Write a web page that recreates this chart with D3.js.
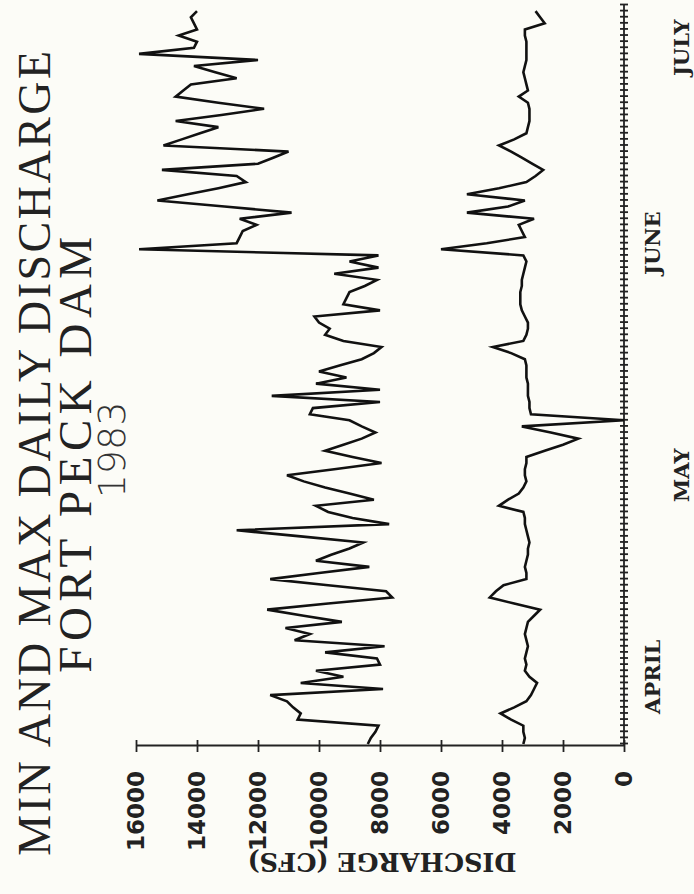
<!DOCTYPE html>
<html>
<head>
<meta charset="utf-8">
<script src="https://cdn.jsdelivr.net/npm/d3@7"></script>
<style>
  body { margin: 0; background: #fcfcf7; }
  svg { display: block; }
</style>
</head>
<body>
<script>
// Daily discharge at Fort Peck Dam, from 1 April 1983 (cfs)
const maxFlow = [
  8400, 8300, 8150, 8050, 10700, 10600, 10850, 11050, 11600, 7900,
  10600, 9200, 10100, 8000, 8100, 9800, 7850, 10800, 10300, 11100,
  9250, 10500, 11700, 9700, 7600, 7800, 9700, 11600, 10000, 8350,
  10100, 9600, 9000, 8550, 10600, 12700, 7700, 8900, 9700, 10100,
  8200, 9000, 9800, 10500, 11050, 9500, 7950, 8900, 9800, 9200,
  8600, 8150, 8600, 9000, 10300, 10200, 8000, 11550, 8000, 10100,
  9100, 10000, 9300, 8600, 8200, 7950, 9200, 9800, 9650, 10000,
  10150, 8000, 9200, 9100, 9000, 8500, 8100, 9500, 8050, 9000,
  8050, 15900, 12700, 12600, 12500, 12050, 12600, 10900, 13100, 15300,
  14300, 13300, 12400, 12700, 15150, 12000, 11500, 11000, 15100, 14500,
  13900, 13300, 14700, 13200, 11800, 13300, 14700, 14450, 14200, 12700,
  13400, 14100, 12000, 15900, 14100, 14000, 14600, 14000, 14100, 14200,
  14000
];
const minFlow = [
  3300, 3250, 3300, 3300, 3700, 4050, 3600, 3200, 3050, 2950,
  2850, 3100, 3250, 3200, 3250, 3200, 3150, 3200, 3250, 3200,
  3150, 2950, 2750, 3600, 4400, 4200, 3950, 3200, 3200, 3250,
  3200, 3150, 3150, 3100, 3150, 3200, 3250, 3250, 3300, 4100,
  3800, 3450, 3300, 3200, 3250, 3250, 3200, 3200, 2600, 2000,
  1500, 2400, 3350, 0, 3050, 3100, 3100, 3150, 3150, 3150,
  3200, 3200, 3200, 3250, 3700, 4300, 3300, 3200, 3150, 3150,
  3250, 3350, 3400, 3400, 3400, 3350, 3350, 3300, 3250, 3200,
  3300, 6000, 4500, 3250, 3350, 3450, 2950, 5150, 3800, 3250,
  5150, 4100, 3200, 2900, 2650, 3000, 3350, 3700, 4100, 3600,
  3200, 3150, 3100, 3100, 3100, 3150, 3450, 3150, 3200, 3250,
  3300, 3250, 3200, 3200, 3200, 3200, 3250, 3250, 2600, 2750,
  2900
];
const dischargeTicks = [0, 2000, 4000, 6000, 8000, 10000, 12000, 14000, 16000];
const monthLabels = ["APRIL", "MAY", "JUNE", "JULY"];
const monthLabelDates = ["1983-04-12", "1983-05-15", "1983-06-22", "1983-07-24"];
const titleLines = ["MIN AND MAX DAILY DISCHARGE", "FORT PECK DAM"];
const titleYear = "1983";

// The chart is laid out upright in an 894 x 694 frame, then turned
// a quarter turn counter-clockwise to fit the page.
const pageW = 694, pageH = 894;
const originX = 148;      // where the two axes meet
const timeEnd = 889;

const svg = d3.select("body")
  .append("svg")
  .attr("width", pageW)
  .attr("height", pageH);

const g = svg.append("g")
  .attr("transform", `translate(0,${pageH}) rotate(-90)`);

const parse = d3.timeParse("%Y-%m-%d");
const startDate = parse("1983-04-01");
const dates = maxFlow.map((d, i) => d3.timeDay.offset(startDate, i));

const x = d3.scaleTime()
  .domain([startDate, parse("1983-07-31")])
  .range([150, timeEnd]);

const y = d3.scaleLinear()
  .domain([0, 16000])
  .range([624, 136]);

// time axis, one tick a day
g.append("g")
  .attr("transform", `translate(0,${y(0)})`)
  .call(d3.axisBottom(x).ticks(d3.timeDay.every(1)).tickSize(4).tickFormat(""))
  .call(a => a.select(".domain").attr("d", `M${originX},0H${timeEnd}`))
  .call(a => a.selectAll(".tick line").attr("y1", -4));

// discharge axis
g.append("g")
  .attr("transform", `translate(${originX},0)`)
  .call(d3.axisLeft(y).tickValues(dischargeTicks).tickSizeInner(6)
    .tickSizeOuter(0).tickPadding(19).tickFormat(d3.format("d")))
  .call(a => a.selectAll(".tick line").attr("x1", 6))
  .call(a => a.selectAll("text")
    .style("font-family", "'DejaVu Sans', sans-serif")
    .style("font-weight", "bold")
    .style("font-size", "23px")
    .attr("fill", "#222"));

g.selectAll(".domain, .tick line")
  .attr("stroke", "#222")
  .attr("stroke-width", 1.8);

// month names, staggered in two rows
g.selectAll(".month")
  .data(monthLabels)
  .join("text")
  .attr("class", "month")
  .attr("x", (d, i) => x(parse(monthLabelDates[i])))
  .attr("y", (d, i) => i % 2 === 0 ? 660 : 689)
  .attr("text-anchor", "middle")
  .style("font-family", "'DejaVu Serif', serif")
  .style("font-weight", "bold")
  .style("font-size", "21px")
  .attr("fill", "#222")
  .text(d => d);

// discharge label
g.append("text")
  .attr("transform", "translate(32,382) rotate(-90)")
  .attr("text-anchor", "middle")
  .attr("dominant-baseline", "central")
  .style("font-family", "'DejaVu Serif', serif")
  .style("font-weight", "bold")
  .style("font-size", "25.5px")
  .attr("fill", "#222")
  .text("DISCHARGE (CFS)");

// title
g.selectAll(".title")
  .data(titleLines)
  .join("text")
  .attr("class", "title")
  .attr("x", 442)
  .attr("y", (d, i) => 50 + i * 41)
  .attr("text-anchor", "middle")
  .style("font-family", "'Liberation Serif', serif")
  .style("font-size", (d, i) => i === 0 ? "46px" : "47px")
  .style("letter-spacing", (d, i) => i === 0 ? "2.5px" : "5.5px")
  .attr("fill", "#222")
  .text(d => d);

g.append("text")
  .attr("x", 444)
  .attr("y", 125)
  .attr("text-anchor", "middle")
  .style("font-family", "'DejaVu Sans', sans-serif")
  .style("font-weight", "200")
  .style("font-size", "38px")
  .attr("fill", "#333")
  .text(titleYear);

// the two daily series
const line = d3.line()
  .x((d, i) => x(dates[i]))
  .y(d => y(d));

[maxFlow, minFlow].forEach(series => {
  g.append("path")
    .datum(series)
    .attr("fill", "none")
    .attr("stroke", "#111")
    .attr("stroke-width", 2.6)
    .attr("d", line);
});
</script>
</body>
</html>
